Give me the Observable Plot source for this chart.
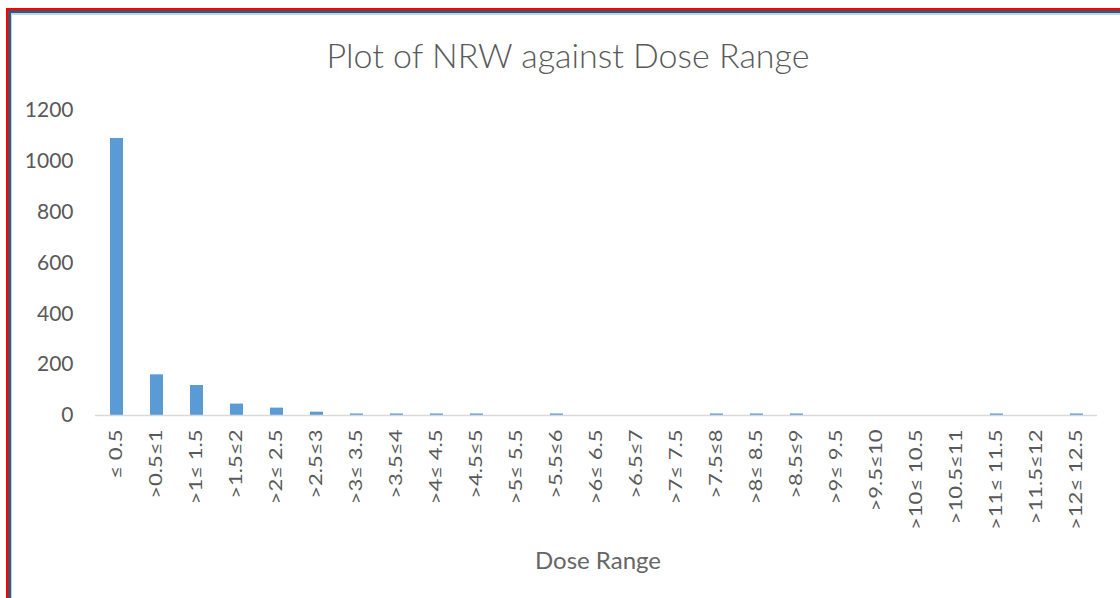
<!DOCTYPE html>
<html>
<head>
<meta charset="utf-8">
<script src="https://cdn.jsdelivr.net/npm/d3@7"></script>
<script src="https://cdn.jsdelivr.net/npm/@observablehq/plot@0.6"></script>
<style>
  html, body { margin: 0; padding: 0; background: #fff; overflow: hidden; width: 1120px; height: 598px; }
  #frame { position: absolute; left: 6px; top: 8px; width: 1200px; height: 700px;
           border-top: 2px solid #ff0000; border-left: 2px solid #ff0000; box-sizing: border-box; }
  #frame2 { position: absolute; left: 0; top: 0; width: 100%; height: 100%;
            border-top: 3px solid #44546a; border-left: 3px solid #44546a; box-sizing: border-box; }
  #frame3 { position: absolute; left: 0; top: 0; width: 100%; height: 100%;
            border-top: 2px solid #bdd7ee; border-left: 1px solid #bdd7ee; box-sizing: border-box; }
  #title { position: absolute; left: 0; width: 1136px; top: 33px; text-align: center;
           font-family: Lato, "Open Sans", sans-serif; font-weight: 300; font-size: 34px; color: #595959; line-height: 44px; }
  #chart { position: absolute; left: 0; top: 90px; }
  #xlabel { position: absolute; left: 0; width: 1196px; top: 544px; text-align: center;
            font-family: Lato, "Open Sans", sans-serif; font-size: 24px; color: #666; line-height: 32px; }
</style>
</head>
<body>
<div id="frame"><div id="frame2"><div id="frame3"></div></div></div>
<div id="title">Plot of NRW against Dose Range</div>
<div id="chart"></div>
<div id="xlabel">Dose Range</div>
<script>
const categories = ["≤ 0.5", ">0.5≤1", ">1≤ 1.5", ">1.5≤2", ">2≤ 2.5", ">2.5≤3", ">3≤ 3.5", ">3.5≤4",
  ">4≤ 4.5", ">4.5≤5", ">5≤ 5.5", ">5.5≤6", ">6≤ 6.5", ">6.5≤7", ">7≤ 7.5", ">7.5≤8",
  ">8≤ 8.5", ">8.5≤9", ">9≤ 9.5", ">9.5≤10", ">10≤ 10.5", ">10.5≤11", ">11≤ 11.5", ">11.5≤12", ">12≤ 12.5"];
const nrw = [1090, 160, 118, 45, 29, 13, 6, 6, 6, 6, 0, 6, 0, 0, 0, 6, 6, 6, 0, 0, 0, 0, 6, 0, 6];
const yTicks = [0, 200, 400, 600, 800, 1000, 1200];

const data = categories.map((c, i) => ({category: c, value: nrw[i]}));

const chart = Plot.plot({
  width: 1120,
  height: 455,
  marginLeft: 95,
  marginRight: 23,
  marginTop: 20,
  marginBottom: 130,
  style: {fontFamily: "Lato, 'Open Sans', sans-serif", color: "#595959", background: "transparent"},
  x: {domain: categories, paddingInner: 0.68, paddingOuter: 0.29, label: null},
  y: {domain: [0, 1200], label: null},
  marks: [
    Plot.barY(data, {x: "category", y: "value", fill: "#5b9bd5"}),
    Plot.ruleY([0], {stroke: "#d9d9d9", strokeWidth: 1.5}),
    Plot.axisY({ticks: yTicks, tickSize: 0, tickPadding: 22, fontSize: 21, label: null, tickFormat: d => String(d)}),
    Plot.axisX({tickSize: 0, tickPadding: 14, tickRotate: -90, fontSize: 17, label: null})
  ]
});
// stretch rotated tick labels lengthwise, like the stretched reference picture
d3.select(chart).selectAll('g[aria-label="x-axis tick label"] text').each(function() {
  const t = this.getAttribute("transform") || "";
  this.setAttribute("transform", t + " scale(1.3,1)");
});
document.getElementById("chart").appendChild(chart);
</script>
</body>
</html>
